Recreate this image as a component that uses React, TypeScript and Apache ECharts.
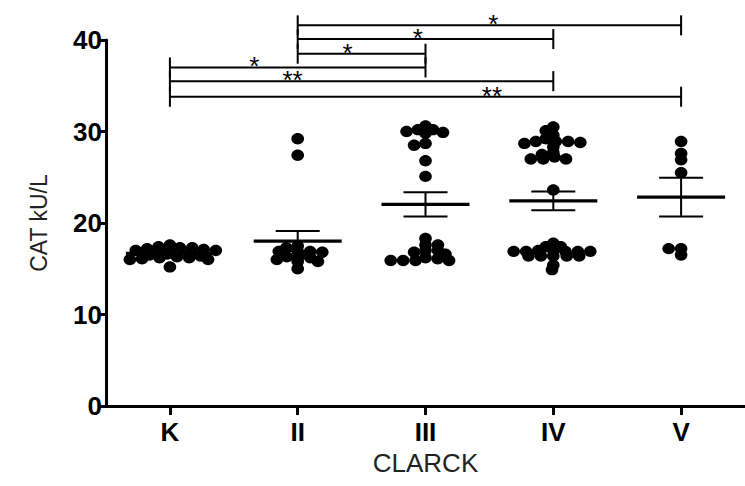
import React, { useEffect, useRef } from "react";
import * as echarts from "echarts";

const categories = ["K", "II", "III", "IV", "V"];

const valuesK = [17.6, 17.4, 17.3, 17.3, 17.2, 17.1, 17.1, 17.0, 17.0, 16.9, 16.8, 16.7, 16.6, 16.5, 16.4, 16.3, 16.2, 16.2, 16.1, 16.0, 16.0, 15.2];
const valuesII = [29.2, 27.4, 17.5, 17.3, 16.9, 16.9, 16.9, 16.8, 16.4, 16.3, 16.2, 16.0, 15.8, 15.8, 15.0];
const valuesIII = [30.6, 30.2, 30.2, 30.0, 29.9, 29.8, 28.7, 28.5, 26.8, 25.1, 18.3, 17.6, 17.6, 17.0, 17.0, 16.8, 16.6, 16.2, 16.1, 15.9, 15.9, 15.9, 15.9];
const valuesIV = [30.5, 30.1, 29.6, 29.2, 28.9, 28.9, 28.9, 28.8, 28.7, 28.3, 27.7, 27.5, 27.2, 27.0, 27.0, 27.0, 23.6, 17.8, 17.4, 17.4, 17.0, 17.0, 16.9, 16.9, 16.9, 16.9, 16.9, 16.4, 16.4, 16.4, 16.4, 16.4, 15.4, 14.9];
const valuesV = [28.9, 27.6, 26.9, 25.5, 17.2, 17.2, 16.5];

const groups = [valuesK, valuesII, valuesIII, valuesIV, valuesV];

const yTicks = [0, 10, 20, 30, 40];

// significance brackets: [from, to]
const comparisons = [[1, 4], [1, 3], [1, 2], [0, 2], [0, 3], [0, 4]];
const significance = ["*", "*", "*", "*", "**", "**"];
const bracketLevels = [41.6, 40.1, 38.5, 37.0, 35.5, 33.8];
const labelFractions = [0.51, 0.47, 0.39, 0.33, 0.32, 0.63];

const FONT = "'Liberation Sans', Arial, Helvetica, sans-serif";
const GRID = { left: 106, top: 40, width: 643, height: 366 };
const DOT_W = 12.6;
const DOT_H = 11.4;
const SEP_X = 12.4; // horizontal separation for dots on the same level
const SEP_Y = 4.6; // vertical distance at which dots may share x

function mean(a: number[]) {
  return a.reduce((s, v) => s + v, 0) / a.length;
}
function sem(a: number[]) {
  const m = mean(a);
  const v = a.reduce((s, x) => s + (x - m) * (x - m), 0) / (a.length - 1);
  return Math.sqrt(v) / Math.sqrt(a.length);
}

// beeswarm in pixel space with elliptical collision
function swarm(values: number[], pxPerUnit: number) {
  const placed: { x: number; y: number }[] = [];
  const out: number[] = [];
  values.forEach((v, idx) => {
    const y = v * pxPerUnit;
    const cands: number[] = [0];
    placed.forEach((p) => {
      const dy = Math.abs(p.y - y);
      if (dy < SEP_Y) {
        const dx = SEP_X * Math.sqrt(1 - (dy / SEP_Y) ** 2);
        cands.push(p.x + dx + 0.01, p.x - dx - 0.01);
      }
    });
    const ok = cands.filter((cx) =>
      placed.every((p) => {
        const dx = (p.x - cx) / SEP_X;
        const dy = (p.y - y) / SEP_Y;
        return dx * dx + dy * dy >= 0.999;
      })
    );
    ok.sort((a, b) => Math.abs(a) - Math.abs(b) || (idx % 2 ? a - b : b - a));
    const x = ok[0];
    placed.push({ x, y });
    out.push(x);
  });
  return out;
}

export default function App() {
  const ref = useRef<HTMLDivElement>(null);
  useEffect(() => {
    document.body.style.margin = "0";
    const chart = echarts.init(ref.current!, undefined, { renderer: "svg" });
    const pxPerUnit = GRID.height / 40;

    const dotData: number[][] = [];
    groups.forEach((vals, gi) => {
      const offs = swarm(vals, pxPerUnit);
      vals.forEach((v, i) => dotData.push([gi, v, offs[i]]));
    });
    const statData = groups.map((vals, gi) => [gi, mean(vals), sem(vals)]);
    const bracketData = comparisons.map((c, i) => [c[0], c[1], bracketLevels[i]]);

    chart.setOption({
      animation: false,
      grid: GRID,
      xAxis: {
        type: "category",
        data: categories,
        boundaryGap: true,
        name: "CLARCK",
        nameLocation: "middle",
        nameGap: 42,
        nameTextStyle: { fontFamily: FONT, fontSize: 26, color: "#222" },
        axisLine: { show: true, lineStyle: { color: "#000", width: 3 } },
        axisTick: { show: true, alignWithLabel: true, length: 9, lineStyle: { color: "#000", width: 3 } },
        axisLabel: { fontFamily: FONT, fontSize: 26, fontWeight: "bold", color: "#000", margin: 13 },
        splitLine: { show: false },
      },
      yAxis: {
        type: "value",
        min: 0,
        max: 40,
        interval: 10,
        name: "CAT kU/L",
        nameLocation: "middle",
        nameGap: 56,
        nameTextStyle: { fontFamily: FONT, fontSize: 23, color: "#222" },
        axisLine: { show: true, lineStyle: { color: "#000", width: 3 } },
        axisTick: { show: true, length: 8, lineStyle: { color: "#000", width: 3 } },
        axisLabel: {
          fontFamily: FONT, fontSize: 26, fontWeight: "bold", color: "#000", margin: 4,
          formatter: (v: number) => (yTicks.includes(v) ? String(v) : ""),
        },
        splitLine: { show: false },
      },
      series: [
        {
          type: "custom",
          name: "dots",
          data: dotData,
          clip: false,
          renderItem: (params: any, api: any) => {
            const p = api.coord([api.value(0), api.value(1)]);
            return {
              type: "ellipse",
              shape: { cx: p[0] + api.value(2), cy: p[1], rx: DOT_W / 2, ry: DOT_H / 2 },
              style: { fill: "#000" },
            };
          },
        },
        {
          type: "custom",
          name: "meanSem",
          data: statData,
          clip: false,
          renderItem: (params: any, api: any) => {
            const pm = api.coord([api.value(0), api.value(1)]);
            const pt = api.coord([api.value(0), api.value(1) + api.value(2)]);
            const pb = api.coord([api.value(0), api.value(1) - api.value(2)]);
            const x = pm[0];
            const ls = { stroke: "#000", lineWidth: 2 };
            return {
              type: "group",
              children: [
                { type: "line", shape: { x1: x - 44, y1: pm[1], x2: x + 44, y2: pm[1] }, style: { stroke: "#000", lineWidth: 3.2 } },
                { type: "line", shape: { x1: x - 22, y1: pt[1], x2: x + 22, y2: pt[1] }, style: ls },
                { type: "line", shape: { x1: x - 22, y1: pb[1], x2: x + 22, y2: pb[1] }, style: ls },
                { type: "line", shape: { x1: x, y1: pt[1], x2: x, y2: pb[1] }, style: ls },
              ],
            };
          },
        },
        {
          type: "custom",
          name: "brackets",
          data: bracketData,
          clip: false,
          renderItem: (params: any, api: any) => {
            const i = params.dataIndex;
            const p1 = api.coord([api.value(0), api.value(2)]);
            const p2 = api.coord([api.value(1), api.value(2)]);
            const y = p1[1];
            const ls = { stroke: "#000", lineWidth: 2 };
            const tx = p1[0] + (p2[0] - p1[0]) * labelFractions[i];
            return {
              type: "group",
              children: [
                { type: "line", shape: { x1: p1[0], y1: y, x2: p2[0], y2: y }, style: ls },
                { type: "line", shape: { x1: p1[0], y1: y - 10, x2: p1[0], y2: y + 10 }, style: ls },
                { type: "line", shape: { x1: p2[0], y1: y - 10, x2: p2[0], y2: y + 10 }, style: ls },
                {
                  type: "text",
                  style: {
                    text: significance[i], x: tx, y: y - 1, align: "center", verticalAlign: "middle",
                    font: `26px ${FONT}`, fill: "#000",
                  },
                },
              ],
            };
          },
        },
      ],
    });
    return () => chart.dispose();
  }, []);
  return <div ref={ref} style={{ width: 745, height: 486 }} />;
}
